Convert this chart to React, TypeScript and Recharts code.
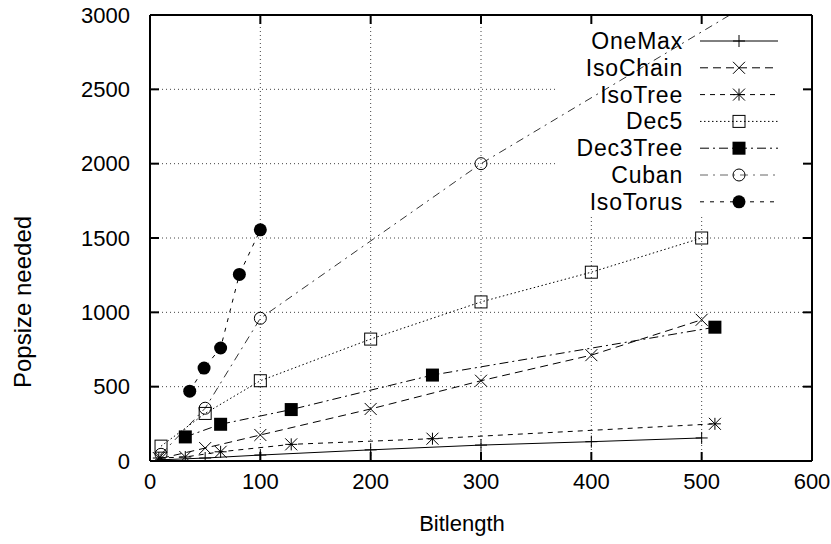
import React from 'react';
import { LineChart, Line, XAxis, YAxis, CartesianGrid, Legend } from 'recharts';

const xTicks = [0, 100, 200, 300, 400, 500, 600];
const yTicks = [0, 500, 1000, 1500, 2000, 2500, 3000];

const oneMaxX = [10, 50, 100, 200, 300, 400, 500];
const oneMaxY = [8, 20, 40, 75, 107, 130, 155];

const isoChainX = [10, 50, 100, 200, 300, 400, 500];
const isoChainY = [18, 87, 175, 350, 540, 712, 950];

const isoTreeX = [8, 32, 64, 128, 256, 512];
const isoTreeY = [20, 27, 62, 112, 150, 250];

const dec5X = [10, 50, 100, 200, 300, 400, 500];
const dec5Y = [100, 320, 540, 820, 1070, 1270, 1500];

const dec3TreeX = [32, 64, 128, 256, 512];
const dec3TreeY = [162, 247, 346, 578, 900];

const cubanX = [10, 50, 100, 300, 600];
const cubanY = [45, 355, 960, 2000, 3330];

const isoTorusX = [36, 49, 64, 81, 100];
const isoTorusY = [470, 625, 760, 1255, 1555];

const pts = (xs: number[], ys: number[]) => xs.map((x, i) => ({ x, y: ys[i] }));

type Kind = 'plus' | 'cross' | 'star' | 'square' | 'fsquare' | 'circle' | 'fcircle';

const series: { name: string; data: { x: number; y: number }[]; dash?: string; kind: Kind; color: string }[] = [
  { name: 'OneMax', data: pts(oneMaxX, oneMaxY), dash: undefined, kind: 'plus', color: '#000' },
  { name: 'IsoChain', data: pts(isoChainX, isoChainY), dash: '8 5', kind: 'cross', color: '#000' },
  { name: 'IsoTree', data: pts(isoTreeX, isoTreeY), dash: '5 5', kind: 'star', color: '#000' },
  { name: 'Dec5', data: pts(dec5X, dec5Y), dash: '1.5 2.5', kind: 'square', color: '#000' },
  { name: 'Dec3Tree', data: pts(dec3TreeX, dec3TreeY), dash: '9 4 2 4', kind: 'fsquare', color: '#000' },
  { name: 'Cuban', data: pts(cubanX, cubanY), dash: '8 5 2 5', kind: 'circle', color: '#333' },
  { name: 'IsoTorus', data: pts(isoTorusX, isoTorusY), dash: '4 6', kind: 'fcircle', color: '#000' },
];

const FONT = '"Liberation Sans", Arial, sans-serif';
const FS = 22;

function Marker({ kind, cx, cy }: { kind: Kind; cx: number; cy: number }) {
  const s = 6;
  const st = { stroke: '#000', strokeWidth: 1 };
  switch (kind) {
    case 'plus':
      return (
        <g>
          <line x1={cx - s} y1={cy} x2={cx + s} y2={cy} {...st} />
          <line x1={cx} y1={cy - s} x2={cx} y2={cy + s} {...st} />
        </g>
      );
    case 'cross':
      return (
        <g>
          <line x1={cx - s} y1={cy - s} x2={cx + s} y2={cy + s} {...st} />
          <line x1={cx - s} y1={cy + s} x2={cx + s} y2={cy - s} {...st} />
        </g>
      );
    case 'star':
      return (
        <g>
          <line x1={cx - s} y1={cy - s} x2={cx + s} y2={cy + s} {...st} />
          <line x1={cx - s} y1={cy + s} x2={cx + s} y2={cy - s} {...st} />
          <line x1={cx - s} y1={cy} x2={cx + s} y2={cy} {...st} />
          <line x1={cx} y1={cy - s} x2={cx} y2={cy + s} {...st} />
        </g>
      );
    case 'square':
      return <rect x={cx - 6} y={cy - 6} width={12} height={12} fill="none" {...st} />;
    case 'fsquare':
      return <rect x={cx - 6.5} y={cy - 6.5} width={13} height={13} fill="#000" stroke="none" />;
    case 'circle':
      return <circle cx={cx} cy={cy} r={6} fill="none" {...st} />;
    case 'fcircle':
      return <circle cx={cx} cy={cy} r={6.5} fill="#000" stroke="none" />;
  }
  return null;
}

const TICK = 9;
const BOTTOM_MARGIN = 20;
const LEFT_MARGIN = 20;

const BottomTick = (p: any) => {
  const axisY = p.y - BOTTOM_MARGIN;
  const inner = p.index !== 0 && p.index !== xTicks.length - 1;
  return (
    <g>
      {inner && <line x1={p.x} y1={axisY} x2={p.x} y2={axisY - TICK} stroke="#000" strokeWidth={2} />}
      <text x={p.x} y={axisY + 20} textAnchor="middle" dominantBaseline="central" fontFamily={FONT} fontSize={FS} fill="#000">
        {p.payload.value}
      </text>
    </g>
  );
};

const LeftTick = (p: any) => {
  const axisX = p.x + LEFT_MARGIN;
  const inner = p.index !== 0 && p.index !== yTicks.length - 1;
  return (
    <g>
      {inner && <line x1={axisX} y1={p.y} x2={axisX + TICK} y2={p.y} stroke="#000" strokeWidth={2} />}
      <text x={axisX - 20} y={p.y} textAnchor="end" dominantBaseline="central" fontFamily={FONT} fontSize={FS} fill="#000">
        {p.payload.value}
      </text>
    </g>
  );
};

const TopTick = (p: any) => {
  const inner = p.index !== 0 && p.index !== xTicks.length - 1;
  return inner ? <line x1={p.x} y1={p.y} x2={p.x} y2={p.y + TICK} stroke="#000" strokeWidth={2} /> : <g />;
};

const RightTick = (p: any) => {
  const inner = p.index !== 0 && p.index !== yTicks.length - 1;
  return inner ? <line x1={p.x} y1={p.y} x2={p.x - TICK} y2={p.y} stroke="#000" strokeWidth={2} /> : <g />;
};

const KEY_LEFT = 555;
const KEY_BOTTOM = 217;

const HGrid = (p: any) => {
  const x2 = p.y1 < KEY_BOTTOM ? Math.min(p.x2, KEY_LEFT) : p.x2;
  return <line key={p.key} x1={p.x1} y1={p.y1} x2={x2} y2={p.y2} stroke="#444" strokeWidth={1} strokeDasharray="1 3" />;
};
const VGrid = (p: any) => {
  const y1 = p.x1 > KEY_LEFT ? Math.max(p.y1, KEY_BOTTOM) : p.y1;
  return <line key={p.key} x1={p.x1} y1={y1} x2={p.x2} y2={p.y2} stroke="#444" strokeWidth={1} strokeDasharray="1 3" />;
};

const renderLegend = () => (
  <svg width={260} height={210} style={{ overflow: 'visible' }}>
    {series.map((s, i) => {
      const cy = 26 + i * 26.8;
      return (
        <g key={s.name}>
          <text x={128} y={cy} textAnchor="end" dominantBaseline="central" fontFamily={FONT} fontSize={23} letterSpacing={0.8} fill="#000">
            {s.name}
          </text>
          <line x1={145} y1={cy} x2={223} y2={cy} stroke={s.color === '#000' ? '#000' : '#666'} strokeWidth={1} strokeDasharray={s.dash} />
          <Marker kind={s.kind} cx={184} cy={cy} />
        </g>
      );
    })}
  </svg>
);

export default function App() {
  return (
    <div style={{ position: 'absolute', left: 0, top: 0, width: 831, height: 544, background: '#fff' }}>
      <LineChart width={831} height={544} margin={{ top: 14, right: 18, left: 0, bottom: 0 }}>
        <CartesianGrid horizontal={HGrid} vertical={VGrid} />
        <XAxis
          type="number"
          dataKey="x"
          domain={[0, 600]}
          ticks={xTicks}
          allowDataOverflow
          height={83}
          tickLine={false}
          tickSize={0}
          tickMargin={BOTTOM_MARGIN}
          tick={BottomTick}
          axisLine={{ stroke: '#000', strokeWidth: 2 }}
          label={{
            content: () => (
              <text x={462} y={523} textAnchor="middle" dominantBaseline="central" fontFamily={FONT} fontSize={FS} fill="#000">
                Bitlength
              </text>
            ),
          }}
        />
        <XAxis
          xAxisId="top"
          orientation="top"
          type="number"
          dataKey="x"
          domain={[0, 600]}
          ticks={xTicks}
          allowDataOverflow
          height={1}
          tickLine={false}
          tickSize={0}
          tickMargin={0}
          tick={TopTick}
          axisLine={{ stroke: '#000', strokeWidth: 2 }}
        />
        <YAxis
          type="number"
          domain={[0, 3000]}
          ticks={yTicks}
          allowDataOverflow
          width={150}
          tickLine={false}
          tickSize={0}
          tickMargin={LEFT_MARGIN}
          tick={LeftTick}
          axisLine={{ stroke: '#000', strokeWidth: 2 }}
          label={{
            content: () => (
              <text transform="translate(22,302) rotate(-90)" textAnchor="middle" dominantBaseline="central" fontFamily={FONT} fontSize={24} fill="#000">
                Popsize needed
              </text>
            ),
          }}
        />
        <YAxis
          yAxisId="right"
          orientation="right"
          type="number"
          domain={[0, 3000]}
          ticks={yTicks}
          allowDataOverflow
          width={1}
          tickLine={false}
          tickSize={0}
          tickMargin={0}
          tick={RightTick}
          axisLine={{ stroke: '#000', strokeWidth: 2 }}
        />
        <Legend
          layout="vertical"
          align="center"
          verticalAlign="middle"
          content={renderLegend}
          wrapperStyle={{ position: 'absolute', left: KEY_LEFT, top: 15, width: 260, height: 210, pointerEvents: 'none' }}
        />
        {series.map((s) => (
          <Line
            key={s.name}
            name={s.name}
            data={s.data}
            dataKey="y"
            type="linear"
            stroke={s.color}
            strokeWidth={1}
            strokeDasharray={s.dash}
            dot={(p: any) => <Marker key={`${s.name}-${p.index}`} kind={s.kind} cx={p.cx} cy={p.cy} />}
            activeDot={false}
            isAnimationActive={false}
          />
        ))}
      </LineChart>
    </div>
  );
}
